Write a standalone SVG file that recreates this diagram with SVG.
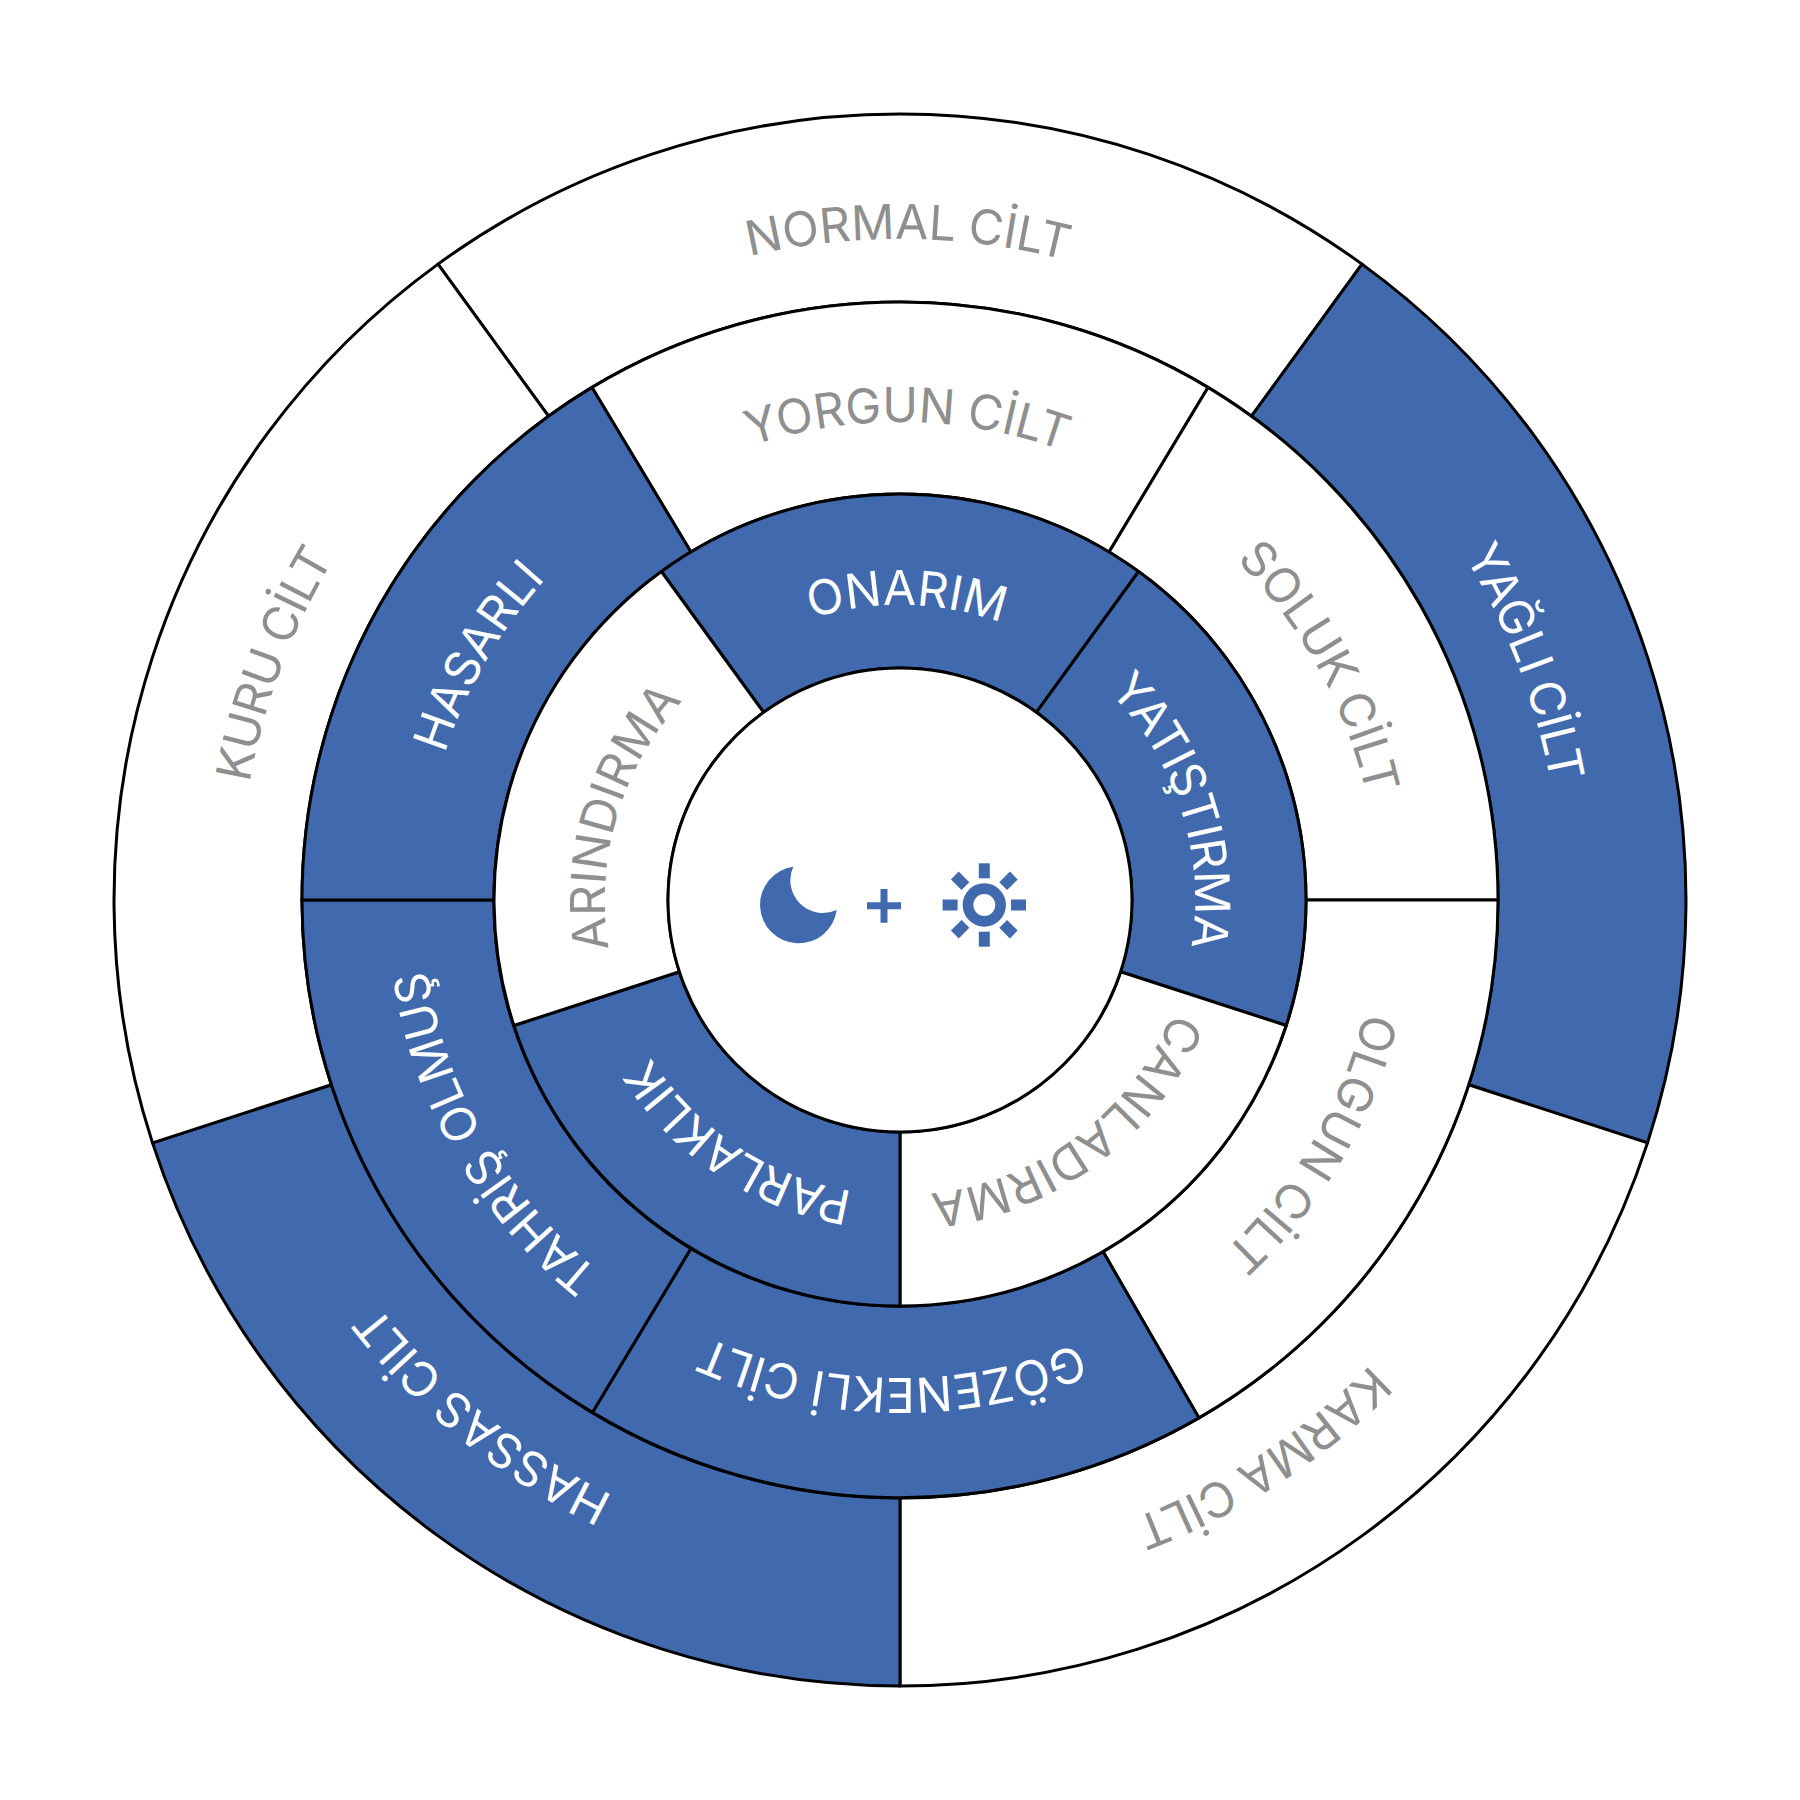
<svg xmlns="http://www.w3.org/2000/svg" xmlns:xlink="http://www.w3.org/1999/xlink" width="1800" height="1800" viewBox="0 0 1800 1800">
<style>
.s{stroke:#000;stroke-width:3;stroke-linejoin:round}
.w{fill:#fff}
.b{fill:#406aad}
text{font-family:Inter,"Liberation Sans",sans-serif;font-size:48px;text-anchor:middle;word-spacing:-2px;text-rendering:geometricPrecision}
.tg{fill:#8f8f8f}
.tw{fill:#fff}
.ic{fill:#406aad}
</style>
<defs>
<path id="r1" d="M900 1561A661 661 0 1 1 900 239A661 661 0 1 1 900 1561Z"/>
<path id="r2" d="M900 1378A478 478 0 1 1 900 422A478 478 0 1 1 900 1378Z"/>
<path id="r3" d="M900 1195A295 295 0 1 1 900 605A295 295 0 1 1 900 1195Z"/>
<rect id="ray" x="978.8" y="863.3" width="11" height="15" class="ic"/>
</defs>
<rect width="1800" height="1800" fill="#fff"/>
<g id="ring-outer">
<g id="normal"><path class="s w" d="M438 264.1A786 786 0 0 1 1362 264.1L1251.5 416.2A598 598 0 0 0 548.5 416.2Z"/><text class="tg" transform="rotate(0.7 900 900)"><textPath href="#r1" startOffset="50%">NORMAL CİLT</textPath></text></g>
<g id="yagli"><path class="s b" d="M1362 264.1A786 786 0 0 1 1647.5 1142.9L1468.7 1084.8A598 598 0 0 0 1251.5 416.2Z"/><text class="tw" letter-spacing="-0.5" transform="rotate(69.2 900 900)"><textPath href="#r1" startOffset="50%">YAĞLI CİLT</textPath></text></g>
<g id="karma"><path class="s w" d="M1647.5 1142.9A786 786 0 0 1 900 1686L900 1498A598 598 0 0 0 1468.7 1084.8Z"/><text class="tg" transform="rotate(147 900 900)"><textPath href="#r1" startOffset="50%">KARMA CİLT</textPath></text></g>
<g id="hassas"><path class="s b" d="M900 1686A786 786 0 0 1 152.5 1142.9L331.3 1084.8A598 598 0 0 0 900 1498Z"/><text class="tw" transform="rotate(219 900 900)"><textPath href="#r1" startOffset="50%">HASSAS CİLT</textPath></text></g>
<g id="kuru"><path class="s w" d="M152.5 1142.9A786 786 0 0 1 438 264.1L548.5 416.2A598 598 0 0 0 331.3 1084.8Z"/><text class="tg" letter-spacing="-0.8" transform="rotate(290.6 900 900)"><textPath href="#r1" startOffset="50%">KURU CİLT</textPath></text></g>
</g>
<g id="ring-middle">
<g id="yorgun"><path class="s w" d="M592 387.4A598 598 0 0 1 1208 387.4L1109.1 552A406 406 0 0 0 690.9 552Z"/><text class="tg" transform="rotate(0.9 900 900)"><textPath href="#r2" startOffset="50%">YORGUN CİLT</textPath></text></g>
<g id="soluk"><path class="s w" d="M1208 387.4A598 598 0 0 1 1498 900L1306 900A406 406 0 0 0 1109.1 552Z"/><text class="tg" letter-spacing="-0.3" transform="rotate(61 900 900)"><textPath href="#r2" startOffset="50%">SOLUK CİLT</textPath></text></g>
<g id="olgun"><path class="s w" d="M1498 900A598 598 0 0 1 1199 1417.9L1103 1251.6A406 406 0 0 0 1306 900Z"/><text class="tg" transform="rotate(120.5 900 900)"><textPath href="#r2" startOffset="50%">OLGUN CİLT</textPath></text></g>
<g id="gozenekli"><path class="s b" d="M1199 1417.9A598 598 0 0 1 592.4 1412.4L690.9 1248.6A406 406 0 0 0 1103 1251.6Z"/><text class="tw" transform="rotate(181 900 900)"><textPath href="#r2" startOffset="50%">GÖZENEKLİ CİLT</textPath></text></g>
<g id="tahris"><path class="s b" d="M592.4 1412.4A598 598 0 0 1 302 900L494 900A406 406 0 0 0 690.9 1248.6Z"/><text class="tw" letter-spacing="-0.4" style="word-spacing:3px" transform="rotate(240.2 900 900)"><textPath href="#r2" startOffset="50%">TAHRİŞ OLMUŞ</textPath></text></g>
<g id="hasarli"><path class="s b" d="M302 900A598 598 0 0 1 592 387.4L690.9 552A406 406 0 0 0 494 900Z"/><text class="tw" transform="rotate(300 900 900)"><textPath href="#r2" startOffset="50%">HASARLI</textPath></text></g>
</g>
<g id="ring-inner">
<g id="onarim"><path class="s b" d="M661.4 571.5A406 406 0 0 1 1138.6 571.5L1036.4 712.3A232 232 0 0 0 763.6 712.3Z"/><text class="tw" transform="rotate(1.3 900 900)"><textPath href="#r3" startOffset="50%">ONARIM</textPath></text></g>
<g id="yatistirma"><path class="s b" d="M1138.6 571.5A406 406 0 0 1 1286.1 1025.5L1120.6 971.7A232 232 0 0 0 1036.4 712.3Z"/><text class="tw" letter-spacing="-0.5" transform="rotate(72 900 900)"><textPath href="#r3" startOffset="50%">YATIŞTIRMA</textPath></text></g>
<g id="canlandirma"><path class="s w" d="M1286.1 1025.5A406 406 0 0 1 900 1306L900 1132A232 232 0 0 0 1120.6 971.7Z"/><text class="tg" transform="rotate(143.2 900 900)"><textPath href="#r3" startOffset="50%">CANLADIRMA</textPath></text></g>
<g id="parlaklik"><path class="s b" d="M900 1306A406 406 0 0 1 513.9 1025.5L679.4 971.7A232 232 0 0 0 900 1132Z"/><text class="tw" letter-spacing="-0.7" transform="rotate(213.5 900 900)"><textPath href="#r3" startOffset="50%">PARLAKLIK</textPath></text></g>
<g id="arindirma"><path class="s w" d="M513.9 1025.5A406 406 0 0 1 661.4 571.5L763.6 712.3A232 232 0 0 0 679.4 971.7Z"/><text class="tg" transform="rotate(286.5 900 900)"><textPath href="#r3" startOffset="50%">ARINDIRMA</textPath></text></g>
</g>
<g id="center">
<circle class="s w" cx="900" cy="900" r="232"/>
<path id="moon" class="ic" d="M793.3 866.7A38.5 38.5 0 1 0 836.7 910A32.7 32.7 0 0 1 793.3 866.7Z"/>
<path id="plus" class="ic" d="M880.5 889H887.5V902.3H901V909.3H887.5V922.7H880.5V909.3H867V902.3H880.5Z"/>
<g id="sun">
<circle cx="984.3" cy="905" r="16.3" fill="none" stroke="#406aad" stroke-width="10.7"/>
<use href="#ray"/><use href="#ray" transform="rotate(45 984.3 905)"/><use href="#ray" transform="rotate(90 984.3 905)"/><use href="#ray" transform="rotate(135 984.3 905)"/><use href="#ray" transform="rotate(180 984.3 905)"/><use href="#ray" transform="rotate(225 984.3 905)"/><use href="#ray" transform="rotate(270 984.3 905)"/><use href="#ray" transform="rotate(315 984.3 905)"/>
</g>
</g>
</svg>
